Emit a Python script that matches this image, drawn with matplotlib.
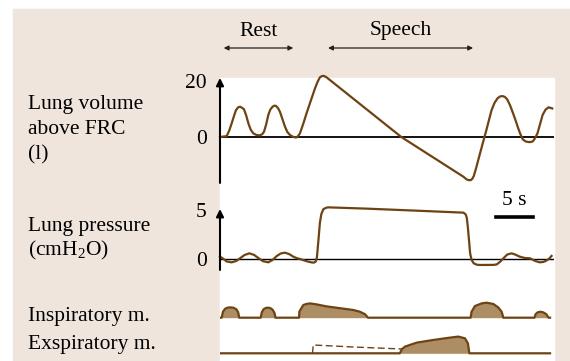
import matplotlib
matplotlib.use("Agg")
import matplotlib.pyplot as plt
from matplotlib.patches import Rectangle
from matplotlib import transforms

plt.rcParams['font.family'] = ['Liberation Serif', 'DejaVu Serif']
plt.rcParams['mathtext.fontset'] = 'custom'
plt.rcParams['mathtext.rm'] = 'Liberation Serif'

# lung volume above FRC (time in s)
vol_t = [0, 0.9, 1.25, 1.58, 1.9, 2.16, 2.45, 2.7, 2.95, 3.24, 3.55, 3.83, 4.15, 4.5,
         4.95, 5.4, 5.7, 5.95, 6.25, 6.53, 6.8, 7.1, 7.35, 7.57, 7.85, 8.1, 8.45,
         8.78, 9.1, 9.46, 9.85, 10.27, 10.55, 10.8, 11.25, 11.7, 12.3, 12.84, 13.2,
         13.5, 13.8, 14.05, 14.35, 14.64, 24.5, 32.9, 33.3, 33.6, 33.9, 34.1, 34.3,
         34.6, 34.9, 35.5, 36.0, 36.4, 36.7, 37.1, 37.5, 37.85, 38.2, 38.5, 38.8,
         39.2, 39.6, 40.0, 40.3, 40.6, 40.9, 41.3, 41.7, 42.0, 42.3, 42.6, 42.9,
         43.25, 43.6, 44.0, 44.4, 44.9]
vol = [0, 0.3, 2.3, 4.9, 7.6, 9.6, 10.6, 10.8, 10.5, 9.9, 7.6, 4.9, 2.6, 1.3,
       0.7, 0.6, 1.0, 1.9, 4.6, 7.9, 9.8, 10.8, 11.2, 11.1, 10.3, 9.0, 6.3,
       3.7, 1.8, 0.7, 0.1, -0.2, 0.3, 1.3, 4.7, 8.5, 13.2, 17.4, 19.8,
       21.3, 21.8, 21.8, 21.4, 20.8, 0.0, -14.2, -15.1, -15.4, -15.4, -14.9, -13.9,
       -11.2, -8.2, -2.3, 2.5, 6.6, 9.6, 12.2, 13.8, 14.5, 14.6, 14.3, 13.5,
       11.3, 8.5, 5.5, 3.1, 1.0, -0.8, -1.6, -1.8, -1.8, -1.5, -0.3, 1.3,
       4.6, 7.9, 9.8, 10.6, 10.2]

# lung pressure (cmH2O)
pres_t = [0, 0.4, 0.9, 1.58, 2.2, 2.7, 3.3, 3.96, 4.6, 5.18, 5.8, 6.53, 7.1, 7.66,
          8.2, 8.78, 9.4, 9.9, 10.4, 10.8, 11.4, 11.9, 12.4, 12.7, 12.95, 13.1,
          13.3, 13.5, 13.7, 13.96, 14.3, 14.6, 19.8, 26.6, 32.9, 33.2, 33.35, 33.5,
          33.65, 33.8, 34.0, 34.3, 34.7, 35.1, 37.0, 37.4, 37.9, 38.3, 38.8, 39.4,
          39.9, 40.5, 41.2, 41.9, 42.6, 43.2, 43.7, 44.1, 44.5, 44.8]
pres = [0.24, 0.05, -0.25, -0.34, -0.2, 0.07, 0.4, 0.58, 0.42, 0.1, -0.22, -0.34,
        -0.1, 0.3, 0.56, 0.65, 0.48, 0.24, 0.08, 0.0, -0.15, -0.27, -0.35, -0.37,
        -0.25, 0.2, 1.9, 3.7, 4.6, 5.07, 5.22, 5.27, 5.14, 4.93, 4.73, 4.55, 4.2,
        3.2, 1.9, 0.58, -0.1, -0.45, -0.58, -0.61, -0.6, -0.55, -0.25, 0.07, 0.45,
        0.58, 0.45, 0.24, 0.1, 0.07, -0.2, -0.34, -0.3, -0.17, 0.05, 0.31]

# inspiratory muscle activity (arbitrary units)
insp_t = [0, 0.23, 0.4, 0.7, 1.1, 1.45, 1.8, 2.2, 2.45, 2.6,
          5.5, 5.65, 5.9, 6.2, 6.5, 6.8, 7.1, 7.35, 7.5,
          10.68, 10.72, 11.04, 11.26, 11.71, 12.16, 13.06, 14.4, 16.2, 18.0, 18.9, 19.6, 20.0,
          33.87, 34.0, 34.46, 35.36, 36.04, 36.94, 37.6, 38.06, 38.29,
          42.5, 42.65, 42.9, 43.3, 43.7, 44.1, 44.4, 44.6]
insp = [0, 0, 6, 9, 10.2, 10.3, 10, 8.5, 5.5, 0,
        0, 5.5, 8.5, 9.8, 10, 9.6, 8, 5, 0,
        0, 6, 10, 12.7, 13.8, 14.3, 13.3, 11.3, 9.5, 7.7, 6, 3.5, 0,
        0, 6, 11.7, 14.3, 15, 13.7, 10.3, 6, 0,
        0, 3.5, 5.3, 6, 5.3, 3.5, 0, 0]

# expiratory muscle activity (arbitrary units)
exp_t = [0, 24.3, 24.6, 25.0, 26.6, 28.8, 31.1, 32.2, 33.1, 33.5, 33.7, 44.6]
exp_act = [0, 0, 4.3, 6.7, 10.7, 13.3, 15.7, 16.7, 15, 10, 0, 0]
exp_dash_t = [12.5, 12.6, 18.0, 24.6]
exp_dash = [0, 8.3, 6.3, 4.3]

rest = (0.5, 9.9)
speech = (14.6, 34.2)
scale_bar = (37.3, 42.3)

BEIGE = '#efe5dc'
LINE = '#6e4314'
FILL = '#ad8d64'
FS = 15.5

W, H = 570, 361
fig = plt.figure(figsize=(W / 100, H / 100), dpi=100)
fig.patches.append(Rectangle((13 / W, 0), 1, 1 - 9 / H, transform=fig.transFigure,
                             color=BEIGE, zorder=-10))
fig.patches.append(Rectangle((220 / W, 0), (554 - 220) / W, 1 - 78 / H,
                             transform=fig.transFigure, color='white', zorder=-9))


def px_axes(x0, y0, x1, y1):
    a = fig.add_axes([x0 / W, 1 - y1 / H, (x1 - x0) / W, (y1 - y0) / H])
    a.patch.set_visible(False)
    for s in a.spines.values():
        s.set_visible(False)
    a.set_xticks([])
    a.set_yticks([])
    a.set_xlim(0, 334 / 7.4)
    return a


def y_arrow(a, lo, hi):
    a.annotate('', xy=(0, hi), xytext=(0, lo), annotation_clip=False,
               arrowprops=dict(arrowstyle='-|>', color='black', lw=1.5,
                               mutation_scale=11, shrinkA=0, shrinkB=0))


# overlay for texts in pixel coordinates
ov = fig.add_axes([0, 0, 1, 1])
ov.set_xlim(0, W)
ov.set_ylim(H, 0)
ov.axis('off')
ov.patch.set_visible(False)

# volume
axv = px_axes(220, 60, 554, 190)
axv.set_ylim((137 - 190) / 2.8, (137 - 60) / 2.8)
axv.axhline(0, color='black', lw=1.3)
axv.plot(vol_t, vol, color=LINE, lw=1.6, solid_joinstyle='round', clip_on=False)
y_arrow(axv, -16.4, 21.1)
axv.set_yticks([0, 20])
axv.tick_params(left=False, labelsize=FS, pad=6)

# pressure
axp = px_axes(220, 195, 554, 275)
axp.set_ylim((259 - 275) / 9.8, (259 - 195) / 9.8)
axp.axhline(0, color='black', lw=1.0)
axp.plot(pres_t, pres, color=LINE, lw=1.6, solid_joinstyle='round', clip_on=False)
y_arrow(axp, -1.12, 5.1)
axp.set_yticks([0, 5])
axp.tick_params(left=False, labelsize=FS, pad=6)
axp.plot(scale_bar, [4.29, 4.29], color='black', lw=2.6, clip_on=False)
axp.text(sum(scale_bar) / 2, 5.95, '5 s', ha='center', va='center', fontsize=FS)

# inspiratory muscles
axi = px_axes(220, 295, 554, 325)
axi.set_ylim(-(325 - 317.7), 317.7 - 295)
axi.fill_between(insp_t, insp, 0, color=FILL, lw=0)
axi.plot(insp_t, insp, color=LINE, lw=1.6, solid_joinstyle='round')

# expiratory muscles
axe = px_axes(220, 330, 554, 361)
axe.set_ylim(-(361 - 353.3), 353.3 - 330)
axe.fill_between(exp_t, exp_act, 0, color=FILL, lw=0)
axe.plot(exp_t, exp_act, color=LINE, lw=1.6, solid_joinstyle='round')
axe.plot(exp_dash_t, exp_dash, color=LINE, lw=1.0, ls=(0, (5, 2.5)))

# phase arrows
tr = transforms.blended_transform_factory(axv.transData, ov.transData)
for (t0, t1), name in [(rest, 'Rest'), (speech, 'Speech')]:
    ov.annotate('', xy=(t0, 48), xytext=(t1, 48), xycoords=tr, textcoords=tr,
                arrowprops=dict(arrowstyle='<|-|>', color='#222222', lw=0.9,
                                mutation_scale=7, shrinkA=0, shrinkB=0))
    ov.text((t0 + t1) / 2, 31, name, transform=tr, ha='center', va='center', fontsize=FS)

# row labels
for y, s in [(105, 'Lung volume'), (130, 'above FRC'), (155, '(l)'),
             (226, 'Lung pressure'), (250, r'(cmH$\mathregular{_2}$O)'),
             (316, 'Inspiratory m.'), (344, 'Exspiratory m.')]:
    ov.text(28, y, s, ha='left', va='center', fontsize=FS)

fig.savefig('out.png', dpi=100)
